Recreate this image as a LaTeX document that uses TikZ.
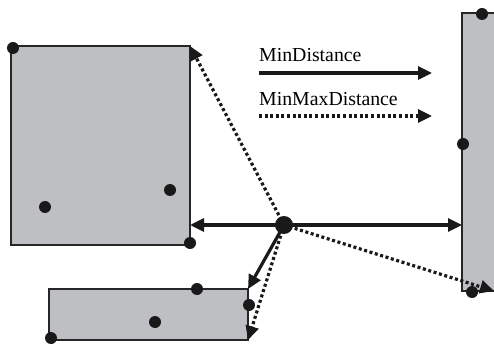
\documentclass[tikz,border=0pt]{standalone}
\usepackage{fontspec}
\setmainfont{Liberation Serif}
\usetikzlibrary{arrows.meta}
\definecolor{boxgray}{RGB}{190,191,195}
\tikzset{
  box/.style={draw=black!85, line width=1.2pt, fill=boxgray, inner sep=0pt, outer sep=0pt},
  dot/.style={circle, fill=black!90, inner sep=0pt, minimum size=12pt},
  bigdot/.style={circle, fill=black!90, inner sep=0pt, minimum size=18pt},
  mind/.style={line width=3.2pt, draw=black!90, -{Triangle[length=14pt,width=13pt]}},
  minmax/.style={line width=3.2pt, draw=black!90, dash pattern=on 3pt off 2.6pt, -{Triangle[length=14pt,width=13pt]}},
  lbl/.style={font=\fontsize{19.8}{24}\selectfont, inner sep=0pt, anchor=base west}
}
\begin{document}
\begin{tikzpicture}[x=1pt,y=-1pt]
\useasboundingbox (0,0) rectangle (494,344);
% rectangles
\node[box, minimum width=179pt, minimum height=199pt, anchor=north west] (A) at (11,46) {};
\node[box, minimum width=199pt, minimum height=51pt, anchor=north west] (B) at (49,289) {};
\node[box, minimum width=36pt, minimum height=278pt, anchor=north west] (C) at (462,13) {};
\coordinate (P) at (284,225);
\coordinate (Cend) at (494,291);
% connectors
\draw[mind] (P) -- (A.east |- P);
\draw[mind] (P) -- (C.west |- P);
\draw[mind] (P) -- (B.north east);
\draw[minmax] (P) -- (A.north east);
\draw[minmax] (P) -- (B.south east);
\draw[minmax] (P) -- (Cend);
% dots
\node[dot] (a1) at (13,48) {};
\node[dot] (a2) at (45,207) {};
\node[dot] (a3) at (170,190) {};
\node[dot] (a4) at (190,243) {};
\node[dot] (b1) at (197,289) {};
\node[dot] (b2) at (155,322) {};
\node[dot] (b3) at (51,338) {};
\node[dot] (b4) at (249,305) {};
\node[dot] (c1) at (482,14) {};
\node[dot] (c2) at (463,144) {};
\node[dot] (c3) at (472,292) {};
\node[bigdot] (p) at (P) {};
% legend
\node[lbl] (l1) at (259,62) {MinDistance};
\node[lbl] (l2) at (259,106) {MinMaxDistance};
\coordinate (l1s) at (259,73);
\coordinate (l1e) at (432,73);
\coordinate (l2s) at (259,116);
\coordinate (l2e) at (432,116);
\draw[mind] (l1s) -- (l1e);
\draw[minmax] (l2s) -- (l2e);
\end{tikzpicture}
\end{document}
